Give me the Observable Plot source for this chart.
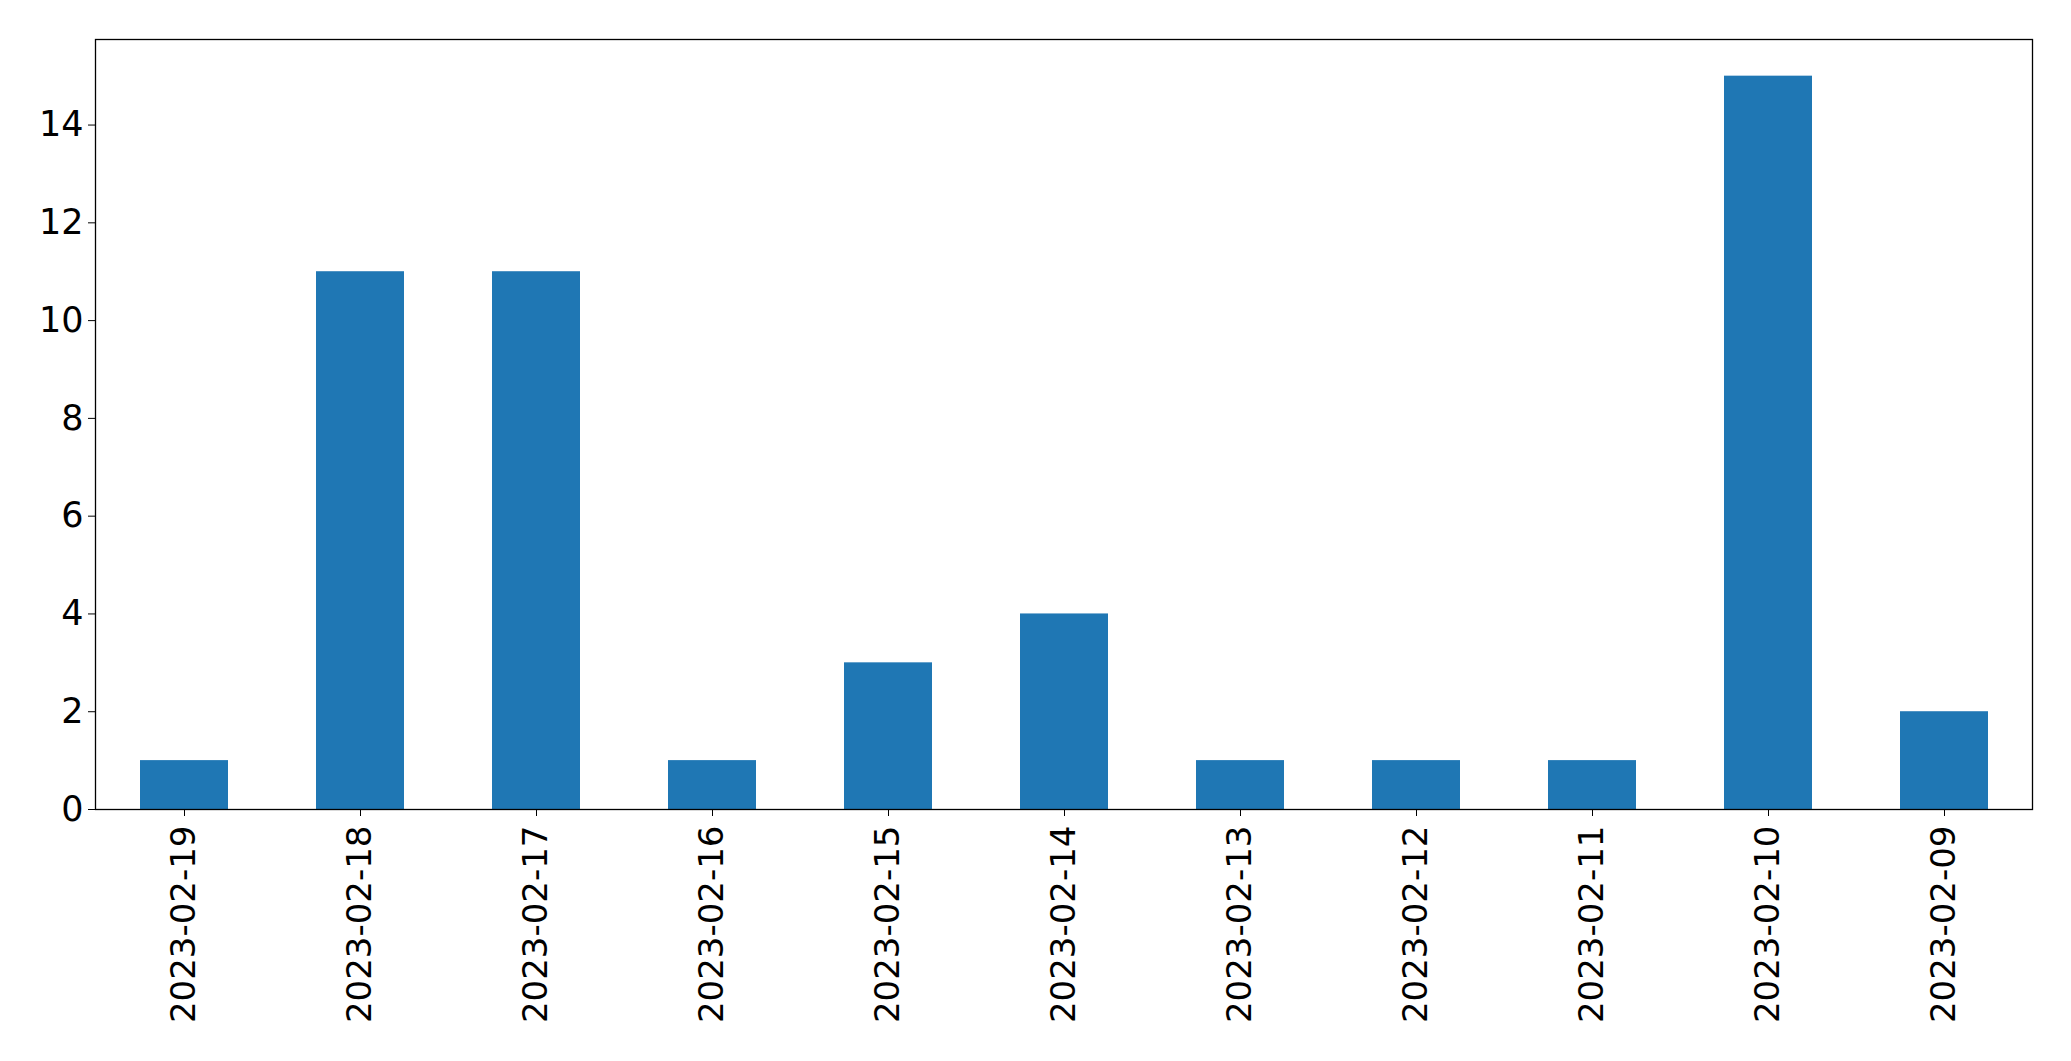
<!DOCTYPE html>
<html>
<head>
<meta charset="utf-8">
<script src="https://cdn.jsdelivr.net/npm/d3@7"></script>
<script src="https://cdn.jsdelivr.net/npm/@observablehq/plot@0.6"></script>
<style>
  html, body { margin: 0; padding: 0; background: #fff; }
  #chart svg { display: block; }
</style>
</head>
<body>
<div id="chart"></div>
<script>
const dates = ["2023-02-19","2023-02-18","2023-02-17","2023-02-16","2023-02-15","2023-02-14","2023-02-13","2023-02-12","2023-02-11","2023-02-10","2023-02-09"];
const counts = [1, 11, 11, 1, 3, 4, 1, 1, 1, 15, 2];
const yTicks = [0, 2, 4, 6, 8, 10, 12, 14];

const data = dates.map((d, i) => ({date: d, count: counts[i]}));

const chart = Plot.plot({
  width: 2071,
  height: 1061,
  marginLeft: 95,
  marginRight: 39,
  marginTop: 39,
  marginBottom: 252,
  style: {fontFamily: "DejaVu Sans", fontSize: "35px", color: "black", background: "white"},
  x: {domain: dates, paddingInner: 0.5, paddingOuter: 0.25, align: 0.5, label: null},
  y: {domain: [0, 15.75], label: null},
  marks: [
    Plot.barY(data, {x: "date", y: "count", fill: "#1f77b4"}),
    Plot.axisY({ticks: yTicks, tickSize: 7, tickPadding: 5, fontSize: 35, label: null, tickFormat: d3.format("d")}),
    Plot.axisX({tickSize: 7, tickPadding: 9, tickRotate: -90, fontSize: 34, label: null}),
    Plot.frame({stroke: "black", strokeWidth: 1.3})
  ]
});
document.getElementById("chart").appendChild(chart);
</script>
</body>
</html>
